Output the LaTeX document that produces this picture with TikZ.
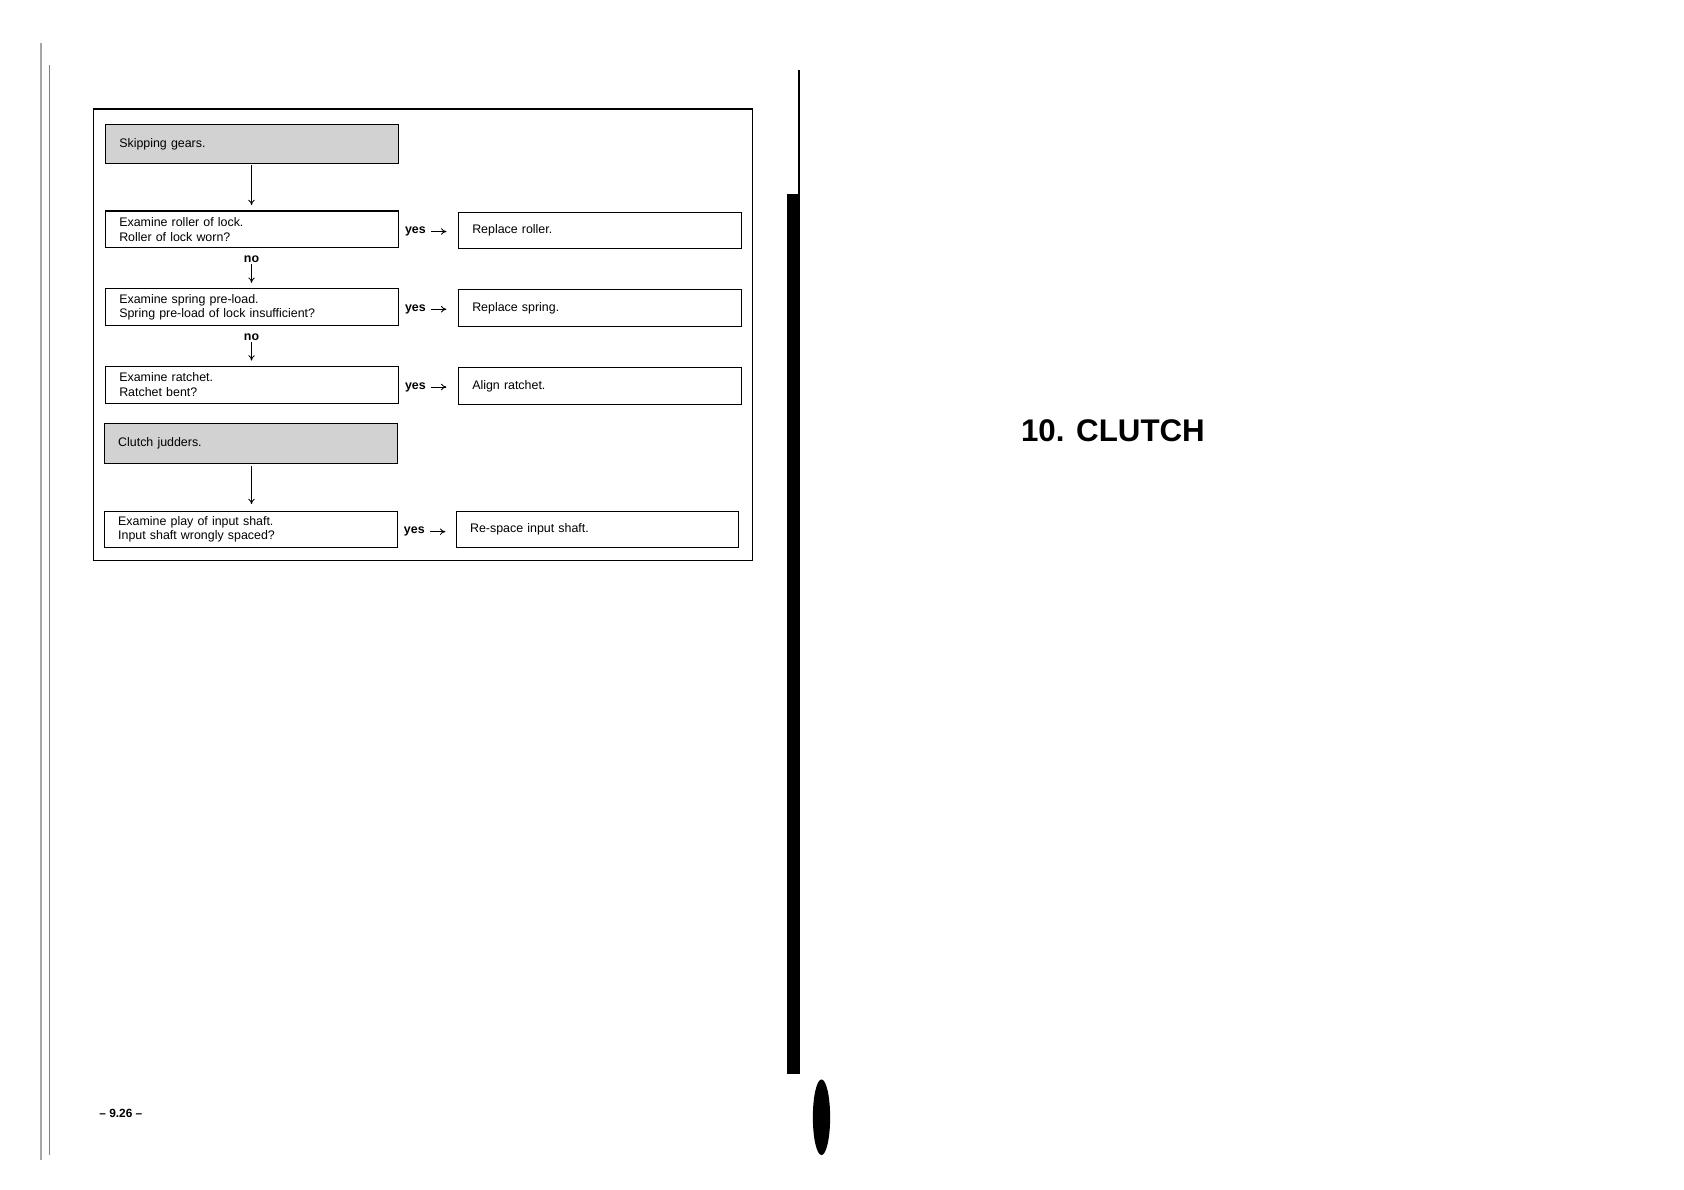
\documentclass[tikz,border=0pt]{standalone}
\usepackage{fontspec}
\setmainfont{Liberation Sans}
\usetikzlibrary{arrows.meta}
\begin{document}
\begin{tikzpicture}[x=1pt,y=-1pt,
  box/.style={draw,line width=1pt,minimum height=34pt,anchor=north west,inner xsep=13pt,align=left,font=\fontsize{11.5}{13.5}\selectfont,text width=#1},
  hdr/.style={box=#1,fill=gray!35},
  lbl/.style={font=\bfseries\fontsize{11.5}{13}\selectfont,inner sep=1pt},
  arr/.style={line width=0.8pt,-{To[length=5pt,width=6pt]}}]
\useasboundingbox (0,0) rectangle (1560,1102);
\fill[white] (0,0) rectangle (1560,1102);
% page artifacts
\draw[line width=1.5pt,gray!70] (38,40) -- (38,1075);
\draw[line width=0.6pt,gray] (46,60) -- (46,1070);
\fill[black] (729,180) rectangle (741,995);
\draw[line width=2pt] (740,65) -- (740,180);
\fill[black] (761,1035) ellipse (8 and 35);
% frame
\draw[line width=1pt] (87,101) rectangle (697,519);
\node[hdr=246pt,minimum height=36pt] (s) at (97,115) {Skipping gears.};
\node[box=246pt] (b1) at (97,195) {Examine roller of lock.\\Roller of lock worn?};
\node[box=236pt] (r1) at (424,196) {Replace roller.};
\node[box=246pt] (b2) at (97,267) {Examine spring pre-load.\\Spring pre-load of lock insufficient?};
\node[box=236pt] (r2) at (424,268) {Replace spring.};
\node[box=246pt] (b3) at (97,339) {Examine ratchet.\\Ratchet bent?};
\node[box=236pt] (r3) at (424,340) {Align ratchet.};
\node[hdr=246pt,minimum height=37pt] (c) at (96,392) {Clutch judders.};
\node[box=246pt] (b4) at (96,473) {Examine play of input shaft.\\Input shaft wrongly spaced?};
\node[box=236pt] (r4) at (422,473) {Re-space input shaft.};
\draw[arr] (233,153) -- (233,190);
\draw[arr] (233,432) -- (233,467);
\node[lbl] (n1) at (233,240) {no};
\draw[arr] (n1.south) -- (233,262);
\node[lbl] (n2) at (233,312) {no};
\draw[arr] (n2.south) -- (233,334);
\foreach \b/\r in {b1/r1,b2/r2,b3/r3,b4/r4}{
  \node[lbl,anchor=west] (y\b) at ([xshift=4pt,yshift=-2pt]\b.east) {yes};
  \draw[arr] ([xshift=4pt]y\b.east) -- ++(14,0);
}
\node[font=\bfseries\fontsize{29}{32}\selectfont] (t) at (1031,399) {10. CLUTCH};
\node[font=\bfseries\fontsize{11}{13}\selectfont] (p) at (112,1031) {– 9.26 –};
\end{tikzpicture}
\end{document}
